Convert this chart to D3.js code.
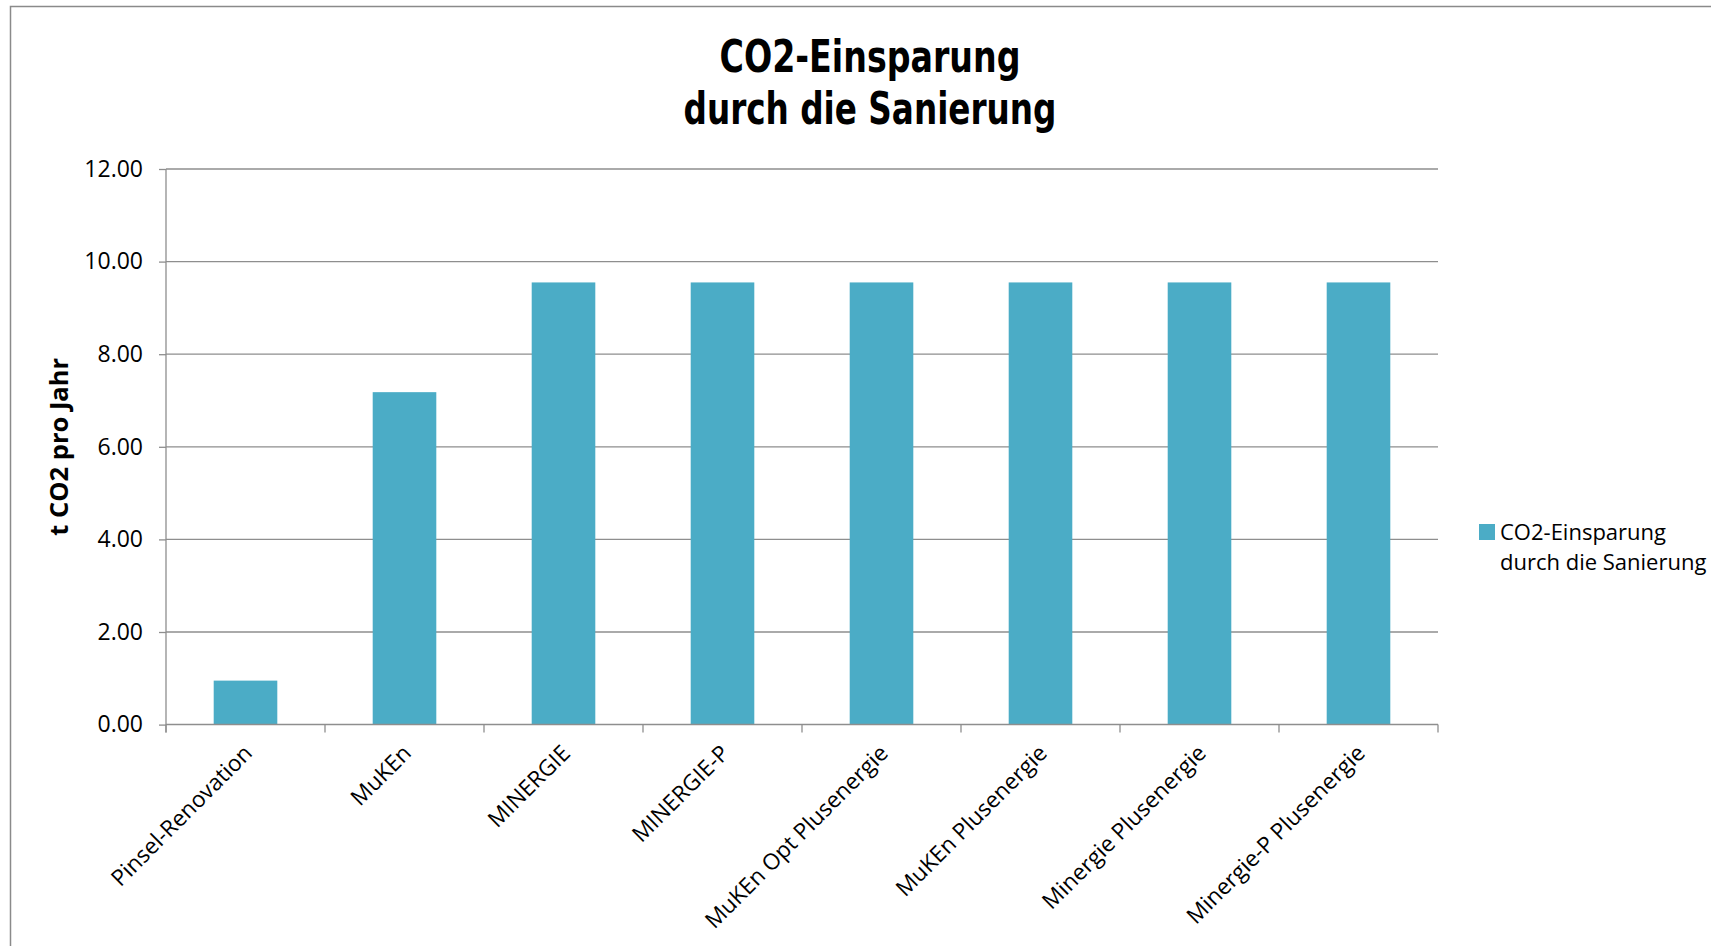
<!DOCTYPE html>
<html>
<head>
<meta charset="utf-8">
<script src="https://cdn.jsdelivr.net/npm/d3@7"></script>
<style>
  html, body { margin: 0; padding: 0; background: #fff; }
  svg { display: block; }
</style>
</head>
<body>
<svg id="chart" width="1711" height="946"></svg>
<script>
// Data
const categories = [
  "Pinsel-Renovation", "MuKEn", "MINERGIE", "MINERGIE-P",
  "MuKEn Opt Plusenergie", "MuKEn Plusenergie", "Minergie Plusenergie", "Minergie-P Plusenergie"
];
const savings = [0.95, 7.18, 9.55, 9.55, 9.55, 9.55, 9.55, 9.55];
const yTicks = [0, 2, 4, 6, 8, 10, 12];
const titleLines = ["CO2-Einsparung", "durch die Sanierung"];
const titleWidths = [301, 373];
const yAxisTitle = "t CO2 pro Jahr";
const legendLines = ["CO2-Einsparung", "durch die Sanierung"];

const W = 1711, H = 946;
const margin = { left: 166, right: W - 1438, top: 169, bottom: H - 724.6 };
const barColor = "#4bacc6";
const gridColor = "#8e8e8e";
const axisFont = "'Open Sans', 'Noto Sans', sans-serif";

const svg = d3.select("#chart");

// Outer chart border (top and left edges visible)
svg.append("rect")
  .attr("x", 10.5).attr("y", 6.5)
  .attr("width", W + 20).attr("height", H + 20)
  .attr("fill", "#fff")
  .attr("stroke", "#8a8a8a").attr("stroke-width", 1.5);

const x = d3.scaleBand()
  .domain(categories)
  .range([margin.left, W - margin.right])
  .paddingInner(0.6)
  .paddingOuter(0.3);

const y = d3.scaleLinear()
  .domain([0, 12])
  .range([H - margin.bottom, margin.top]);

// Horizontal gridlines
svg.append("g")
  .selectAll("line")
  .data(yTicks.filter(d => d > 0))
  .join("line")
  .attr("x1", margin.left).attr("x2", W - margin.right)
  .attr("y1", d => y(d)).attr("y2", d => y(d))
  .attr("stroke", gridColor).attr("stroke-width", 1.3);

// Bars
svg.append("g")
  .selectAll("rect")
  .data(categories.map((c, i) => ({ c, v: savings[i] })))
  .join("rect")
  .attr("x", d => x(d.c))
  .attr("width", x.bandwidth())
  .attr("y", d => y(d.v))
  .attr("height", d => y(0) - y(d.v))
  .attr("fill", barColor);

// Y axis
const yAxis = d3.axisLeft(y)
  .tickValues(yTicks)
  .tickFormat(d3.format(".2f"))
  .tickSize(7)
  .tickPadding(16);

const gy = svg.append("g")
  .attr("transform", `translate(${margin.left},0)`)
  .call(yAxis);
gy.select(".domain")
  .attr("d", `M0,${y(12)}V${y(0) + 8}`)
  .attr("stroke", gridColor).attr("stroke-width", 1.3);
gy.selectAll(".tick line").attr("stroke", gridColor).attr("stroke-width", 1.3);
gy.selectAll(".tick text")
  .attr("fill", "#000")
  .style("font-family", axisFont)
  .style("font-size", "23px");

// X axis with ticks on category boundaries
const boundaries = d3.range(categories.length + 1).map(i => margin.left + i * (W - margin.left - margin.right) / categories.length);
const gx = svg.append("g");
gx.append("line")
  .attr("x1", margin.left).attr("x2", W - margin.right)
  .attr("y1", y(0)).attr("y2", y(0))
  .attr("stroke", gridColor).attr("stroke-width", 1.5);
gx.selectAll("line.tick")
  .data(boundaries)
  .join("line")
  .attr("class", "tick")
  .attr("x1", d => d).attr("x2", d => d)
  .attr("y1", y(0)).attr("y2", y(0) + 8)
  .attr("stroke", gridColor).attr("stroke-width", 1.3);

// Rotated category labels
gx.selectAll("text")
  .data(categories)
  .join("text")
  .attr("transform", d => `translate(${x(d) + x.bandwidth() / 2 + 8},${y(0) + 30}) rotate(-45)`)
  .attr("text-anchor", "end")
  .attr("fill", "#000")
  .style("font-family", axisFont)
  .style("font-size", "22.5px")
  .text(d => d);

// Y axis title
svg.append("text")
  .attr("transform", `translate(68,${(y(0) + y(12)) / 2}) rotate(-90)`)
  .attr("text-anchor", "middle")
  .attr("fill", "#000")
  .style("font-family", axisFont)
  .style("font-weight", "bold")
  .style("font-size", "25.5px")
  .text(yAxisTitle);

// Chart title
const title = svg.append("text")
  .attr("text-anchor", "middle")
  .attr("fill", "#000")
  .style("font-family", "'Liberation Sans Narrow', 'DejaVu Sans Condensed', sans-serif")
  .style("font-weight", "bold")
  .style("font-size", "44px");
title.selectAll("tspan")
  .data(titleLines.map((t, i) => ({ t, w: titleWidths[i] })))
  .join("tspan")
  .attr("x", 870)
  .attr("y", (d, i) => 72 + i * 52)
  .attr("textLength", d => d.w)
  .attr("lengthAdjust", "spacingAndGlyphs")
  .text(d => d.t);

// Legend
const legend = svg.append("g");
legend.append("rect")
  .attr("x", 1479).attr("y", 524)
  .attr("width", 16).attr("height", 16)
  .attr("fill", barColor);
legend.append("text")
  .attr("fill", "#000")
  .style("font-family", axisFont)
  .style("font-size", "22px")
  .selectAll("tspan")
  .data(legendLines)
  .join("tspan")
  .attr("x", 1500)
  .attr("y", (d, i) => 540 + i * 30)
  .text(d => d);
</script>
</body>
</html>
